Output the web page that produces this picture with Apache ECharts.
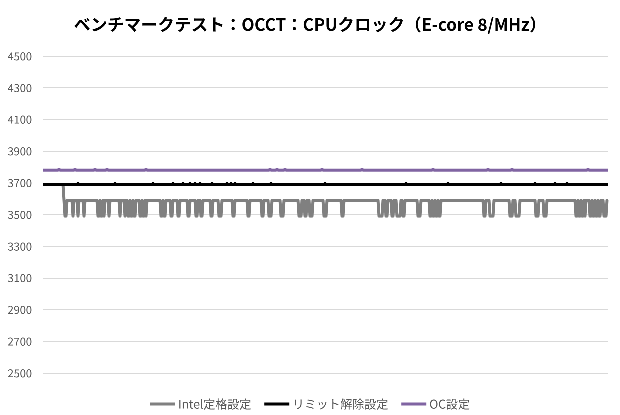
<!DOCTYPE html>
<html>
<head>
<meta charset="utf-8">
<script>
// ECharts は線の点を画面の2px未満なら間引くため、描画倍率を上げておく
try {
	Object.defineProperty(window, 'devicePixelRatio', { get: function(){ return 4; }, configurable: true });
} catch (e) {}
</script>
<script src="https://cdn.jsdelivr.net/npm/echarts@6/dist/echarts.min.js"></script>
<style>
html, body { margin: 0; padding: 0; background: #fff; }
#chart { width: 620px; height: 415px; }
</style>
</head>
<body>
<div id="chart"></div>
<script>
// 読み取り値（横軸はサンプル番号、566点）
var sampleCount = 566;
var seriesNames = ['Intel定格設定', 'リミット解除設定', 'OC設定'];
var yTicks = [2500, 2700, 2900, 3100, 3300, 3500, 3700, 3900, 4100, 4300, 4500];

// Intel定格設定：開始直後は3690、その後3590付近、3490へ落ちる区間 [開始, 終了]
var intelStartEnd = 20;
var intelStartValue = 3690;
var intelBase = 3590;
var intelLow = 3490;
var intelDips = [
	[22,23],[30,30],[35,35],[41,41],
	[55,56],[58,59],[61,61],[66,66],[77,77],[82,82],
	[85,86],[88,89],[91,92],[97,98],[100,101],[103,103],
	[118,119],[121,122],[128,129],[135,136],[145,146],[153,154],[158,159],
	[168,169],[176,178],[190,191],[205,206],[219,220],[226,228],[238,240],
	[256,258],[262,263],[267,269],[281,283],[299,300],
	[336,339],[343,344],[349,350],[354,357],[360,361],[375,377],
	[387,388],[390,391],[393,394],[396,397],
	[441,442],[447,450],[467,469],[473,476],[493,495],[501,503],
	[533,534],[536,537],[539,540],[542,542],
	[547,548],[550,551],[553,554],[556,557],[561,563]
];

// リミット解除設定：3690、ときどきわずかに上
var limitBase = 3690;
var limitPeak = 3696;
var limitPeaks = [35,72,110,130,140,147,152,157,169,184,188,192,210,228,282,363,405,458,492,512,524];

// OC設定：3780、ときどきわずかに上
var ocBase = 3780;
var ocPeak = 3786;
var ocPeaks = [16,32,52,64,103,227,234,242,279,319,390,445,469,545];

(function(){
	var chart = echarts.init(document.getElementById('chart'), null, { devicePixelRatio: 4 });
	chart.setOption(getOption());
})();

function getOption(){
	var cats = [], intel = [], limit = [], oc = [];
	for (var i = 0; i < sampleCount; i++) {
		cats.push(String(i + 1));
		intel.push(i <= intelStartEnd ? intelStartValue : intelBase);
		limit.push(limitBase);
		oc.push(ocBase);
	}
	intelDips.forEach(function(d){
		for (var k = d[0]; k <= d[1]; k++) intel[k] = intelLow;
	});
	limitPeaks.forEach(function(k){ limit[k] = limitPeak; });
	ocPeaks.forEach(function(k){ oc[k] = ocPeak; });

	var font = '"Noto Sans CJK JP", sans-serif';
	var colors = ['#808080', '#000000', '#8064a2'];
	var datas = [intel, limit, oc];

	var option = {
		animation: false,
		textStyle: { fontFamily: font },
		title: {
			text: 'ベンチマークテスト：OCCT：CPUクロック（E-core 8/MHz）',
			left: 'center',
			top: 11,
			textStyle: { fontSize: 16.8, fontWeight: 'bold', color: '#000', fontFamily: font }
		},
		legend: {
			data: seriesNames.map(function(n){ return { name: n, icon: 'rect' }; }),
			top: 393,
			left: 'center',
			itemWidth: 25,
			itemHeight: 3,
			itemGap: 13,
			textStyle: { fontSize: 12, color: '#595959', fontFamily: font, padding: [0, 0, 0, -2] }
		},
		grid: { left: 43, right: 12, top: 56, bottom: 42 },
		xAxis: {
			type: 'category',
			data: cats,
			boundaryGap: false,
			axisLine: { show: false },
			axisTick: { show: false },
			axisLabel: { show: false },
			splitLine: { show: false }
		},
		yAxis: {
			type: 'value',
			min: yTicks[0],
			max: yTicks[yTicks.length - 1],
			interval: 200,
			axisLine: { show: false },
			axisTick: { show: false },
			axisLabel: {
				fontSize: 11, color: '#595959', margin: 11, fontFamily: font,
				formatter: function(v){ return String(v); }
			},
			splitLine: { lineStyle: { color: '#d9d9d9', width: 1 } }
		},
		series: seriesNames.map(function(name, i){
			return {
				name: name,
				type: 'line',
				data: datas[i],
				symbol: 'none',
				showSymbol: false,
				color: colors[i],
				lineStyle: { color: colors[i], width: 3, join: 'round', cap: 'butt' },
				z: i + 2
			};
		})
	};
	return option;
}
</script>
</body>
</html>
